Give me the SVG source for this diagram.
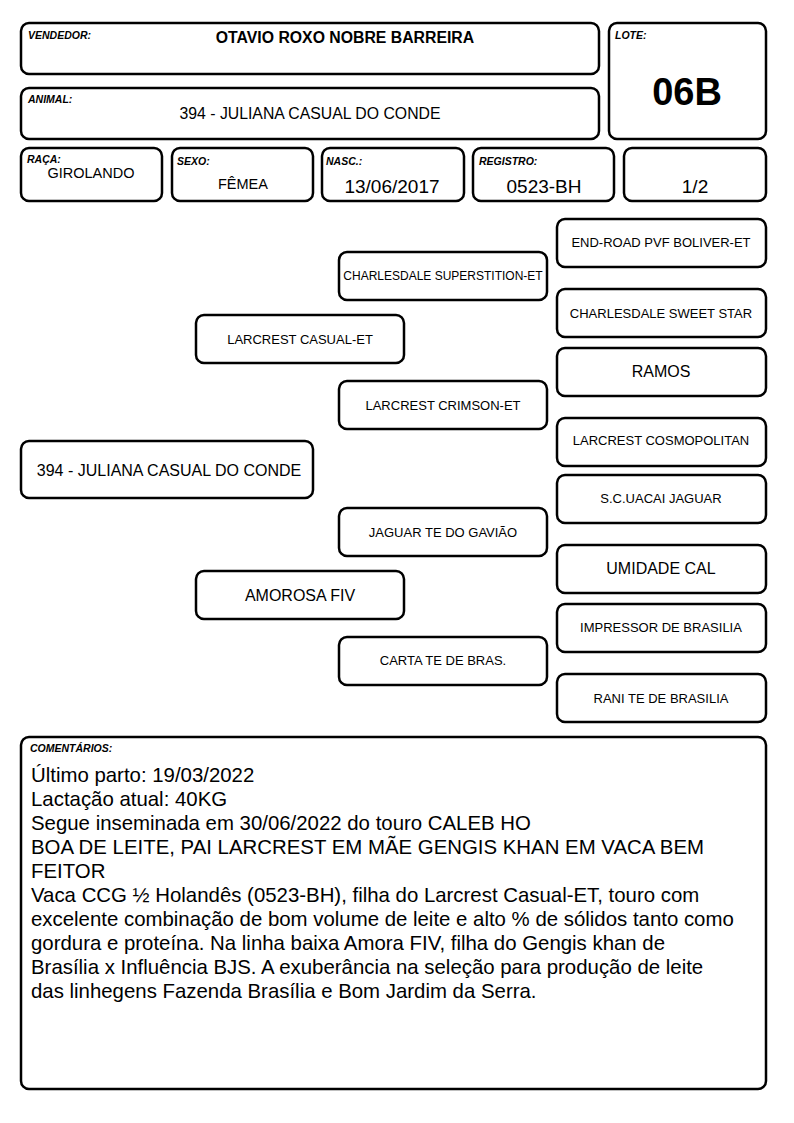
<svg xmlns="http://www.w3.org/2000/svg" width="794" height="1123" viewBox="0 0 794 1123">
<style>
rect.b{fill:#fff;stroke:#000;stroke-width:2.5}
text{font-family:"Liberation Sans",Arial,sans-serif;fill:#000}
.lbl{font-size:10.5px;font-weight:bold;font-style:italic}
.c{text-anchor:middle}
.p{font-size:13px;text-anchor:middle}
.ps{font-size:12px;text-anchor:middle}
.pl{font-size:16px;text-anchor:middle}
.v{font-size:19px;text-anchor:middle}
.cm{font-size:20.4px}
</style>
<rect width="794" height="1123" fill="#fff"/>
<g id="vendedor">
<rect class="b" x="21" y="23" width="578" height="51" rx="8"/>
<text class="lbl" x="28" y="39">VENDEDOR:</text>
<text class="c" x="345" y="43" font-size="15.8" font-weight="bold">OTAVIO ROXO NOBRE BARREIRA</text>
</g>
<g id="animal">
<rect class="b" x="21" y="88" width="578" height="51" rx="8"/>
<text class="lbl" x="28" y="103">ANIMAL:</text>
<text class="c" x="310" y="119" font-size="15.8">394 - JULIANA CASUAL DO CONDE</text>
</g>
<g id="lote">
<rect class="b" x="609" y="23" width="157" height="116" rx="8"/>
<text class="lbl" x="615" y="39">LOTE:</text>
<text class="c" x="687" y="105" font-size="38" font-weight="bold">06B</text>
</g>
<g id="raca">
<rect class="b" x="21" y="148" width="141" height="53" rx="8"/>
<text class="lbl" x="27" y="163">RAÇA:</text>
<text class="c" x="91" y="178" font-size="14.5">GIROLANDO</text>
</g>
<g id="sexo">
<rect class="b" x="172" y="148" width="141" height="53" rx="8"/>
<text class="lbl" x="177" y="165">SEXO:</text>
<text class="c" x="243" y="189" font-size="14.5">FÊMEA</text>
</g>
<g id="nasc">
<rect class="b" x="322" y="148" width="142" height="53" rx="8"/>
<text class="lbl" x="326" y="165">NASC.:</text>
<text class="v" x="392" y="193">13/06/2017</text>
</g>
<g id="registro">
<rect class="b" x="473" y="148" width="141" height="53" rx="8"/>
<text class="lbl" x="479" y="165">REGISTRO:</text>
<text class="v" x="544" y="193">0523-BH</text>
</g>
<g id="parte">
<rect class="b" x="624" y="148" width="142" height="53" rx="8"/>
<text class="v" x="695" y="193">1/2</text>
</g>
<g id="subject">
<rect class="b" x="21" y="441" width="292" height="57" rx="8"/>
<text class="pl" x="169" y="476">394 - JULIANA CASUAL DO CONDE</text>
</g>
<g id="sire">
<rect class="b" x="196" y="315" width="208" height="48" rx="8"/>
<text class="p" x="300" y="344">LARCREST CASUAL-ET</text>
</g>
<g id="dam">
<rect class="b" x="196" y="571" width="208" height="48" rx="8"/>
<text class="pl" x="300" y="601">AMOROSA FIV</text>
</g>
<g id="ss">
<rect class="b" x="339" y="252" width="208" height="48" rx="8"/>
<text class="ps" x="443" y="280">CHARLESDALE SUPERSTITION-ET</text>
</g>
<g id="sd">
<rect class="b" x="339" y="381" width="208" height="48" rx="8"/>
<text class="p" x="443" y="410">LARCREST CRIMSON-ET</text>
</g>
<g id="ds">
<rect class="b" x="339" y="508" width="208" height="48" rx="8"/>
<text class="p" x="443" y="537">JAGUAR TE DO GAVIÃO</text>
</g>
<g id="dd">
<rect class="b" x="339" y="637" width="208" height="48" rx="8"/>
<text class="p" x="443" y="665">CARTA TE DE BRAS.</text>
</g>
<g id="sss">
<rect class="b" x="557" y="219" width="209" height="48" rx="8"/>
<text class="p" x="661" y="247">END-ROAD PVF BOLIVER-ET</text>
</g>
<g id="ssd">
<rect class="b" x="557" y="289" width="209" height="48" rx="8"/>
<text class="p" x="661" y="318">CHARLESDALE SWEET STAR</text>
</g>
<g id="sds">
<rect class="b" x="557" y="348" width="209" height="48" rx="8"/>
<text class="pl" x="661" y="377">RAMOS</text>
</g>
<g id="sdd">
<rect class="b" x="557" y="418" width="209" height="48" rx="8"/>
<text class="p" x="661" y="445">LARCREST COSMOPOLITAN</text>
</g>
<g id="dss">
<rect class="b" x="557" y="475" width="209" height="48" rx="8"/>
<text class="p" x="661" y="503">S.C.UACAI JAGUAR</text>
</g>
<g id="dsd">
<rect class="b" x="557" y="545" width="209" height="48" rx="8"/>
<text class="pl" x="661" y="574">UMIDADE CAL</text>
</g>
<g id="dds">
<rect class="b" x="557" y="604" width="209" height="48" rx="8"/>
<text class="p" x="661" y="632">IMPRESSOR DE BRASILIA</text>
</g>
<g id="ddd">
<rect class="b" x="557" y="674" width="209" height="48" rx="8"/>
<text class="p" x="661" y="703">RANI TE DE BRASILIA</text>
</g>
<g id="connectors"></g>
<g id="comentarios">
<rect class="b" x="21" y="737" width="745" height="352" rx="8"/>
<text class="lbl" x="30" y="752">COMENTÁRIOS:</text>
<text class="cm" x="31" y="782">Último parto: 19/03/2022</text>
<text class="cm" x="31" y="806">Lactação atual: 40KG</text>
<text class="cm" x="31" y="830">Segue inseminada em 30/06/2022 do touro CALEB HO</text>
<text class="cm" x="31" y="854">BOA DE LEITE, PAI LARCREST EM MÃE GENGIS KHAN EM VACA BEM</text>
<text class="cm" x="31" y="878">FEITOR</text>
<text class="cm" x="31" y="902">Vaca CCG ½ Holandês (0523-BH), filha do Larcrest Casual-ET, touro com</text>
<text class="cm" x="31" y="926">excelente combinação de bom volume de leite e alto % de sólidos tanto como</text>
<text class="cm" x="31" y="950">gordura e proteína. Na linha baixa Amora FIV, filha do Gengis khan de</text>
<text class="cm" x="31" y="974">Brasília x Influência BJS. A exuberância na seleção para produção de leite</text>
<text class="cm" x="31" y="998">das linhegens Fazenda Brasília e Bom Jardim da Serra.</text>
</g>
</svg>
